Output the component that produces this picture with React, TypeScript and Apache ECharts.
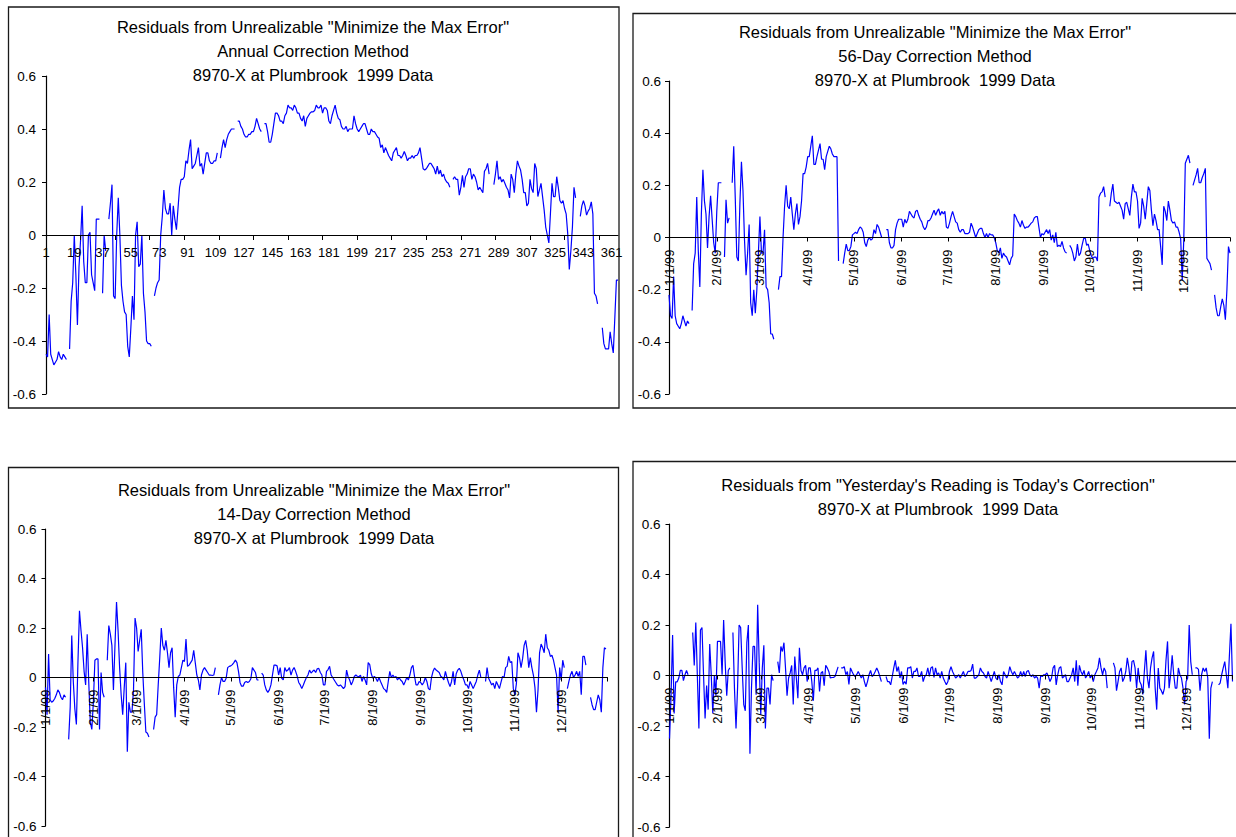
import React, { useEffect, useRef } from "react";
import * as echarts from "echarts";

// Residuals, one value per day of 1999 (null = missing day)
const annualResiduals: (number | null)[] = [
  -0.45,-0.46,-0.30,-0.45,-0.47,-0.49,-0.48,-0.47,-0.44,-0.46,
  -0.47,-0.45,-0.46,-0.47,null,-0.43,-0.25,-0.18,0.0,-0.15,
  -0.34,-0.12,-0.02,0.11,-0.10,-0.18,-0.18,0.0,0.01,-0.15,
  -0.18,-0.21,0.06,0.06,0.06,null,-0.22,0.0,-0.06,null,
  0.06,0.12,0.19,-0.23,-0.24,0.0,0.14,0.0,-0.19,-0.25,
  -0.29,-0.30,-0.42,-0.46,-0.35,-0.23,-0.32,0.0,0.05,-0.12,
  -0.11,0.0,-0.22,-0.29,-0.40,-0.41,-0.41,-0.42,null,-0.23,
  -0.20,-0.18,-0.17,0.0,0.07,0.17,0.10,0.08,0.08,0.12,
  0.0,0.11,0.06,0.02,0.10,0.18,0.21,0.21,0.22,0.28,
  0.27,0.32,0.36,0.25,0.26,0.27,0.30,0.33,0.26,0.27,
  0.23,0.27,0.31,0.31,0.28,0.27,0.27,0.28,0.28,0.31,
  null,0.29,0.33,0.36,0.33,0.36,0.38,0.39,0.40,0.40,
  0.40,null,0.43,0.43,0.41,0.40,0.38,0.37,0.37,0.38,
  0.38,0.39,0.39,0.41,0.44,0.42,0.40,0.39,null,0.42,
  0.42,0.39,0.35,0.35,0.38,0.42,0.46,0.46,0.45,0.43,
  0.43,0.42,0.45,0.46,0.49,0.48,0.48,0.47,0.49,0.48,
  0.46,0.46,0.44,0.43,0.45,0.41,0.44,0.45,0.46,0.465,
  0.465,0.47,0.49,0.48,0.48,0.49,0.46,0.48,0.48,0.47,
  0.43,0.42,0.45,0.47,0.49,0.46,0.44,0.435,0.41,0.40,
  0.40,0.41,0.39,0.40,0.40,0.40,0.45,0.42,0.40,0.39,
  0.40,0.41,0.42,0.42,0.40,0.38,0.38,0.40,0.39,0.39,
  0.38,0.37,0.365,0.33,0.34,0.31,0.33,0.315,0.30,0.29,
  0.28,0.31,0.32,0.33,0.30,0.30,0.29,0.30,0.315,0.30,
  0.28,0.29,0.29,0.30,0.29,0.30,0.30,0.31,0.33,0.29,
  0.25,0.245,0.25,0.26,0.27,0.27,0.26,0.25,0.23,0.26,
  0.23,0.245,0.22,0.23,0.21,0.20,0.195,0.18,null,0.21,
  0.22,0.21,0.21,0.15,0.18,0.225,0.18,0.22,0.23,0.25,
  0.25,0.21,0.23,0.22,0.20,0.17,0.18,0.17,0.16,0.24,
  0.25,0.27,0.23,null,null,0.19,0.23,0.28,0.21,0.22,
  0.20,0.21,0.195,0.18,0.17,0.14,0.23,0.21,0.16,0.23,
  0.28,0.26,0.245,0.21,0.16,0.16,0.11,0.12,0.21,0.175,
  0.16,0.27,0.25,0.145,0.17,0.195,0.145,0.095,0.03,0.0,
  -0.03,0.08,0.195,0.145,0.145,0.22,0.18,0.13,0.12,0.13,
  0.10,0.08,0.006,-0.13,-0.06,0.03,0.18,0.14,null,null,
  0.07,0.11,0.13,0.11,0.075,0.09,0.10,0.125,0.08,-0.22,
  -0.23,-0.26,null,null,-0.35,-0.41,-0.43,-0.43,-0.43,-0.365,
  -0.41,-0.445,-0.31,-0.17,-0.17,
];

const day56Residuals: (number | null)[] = [
  -0.22,-0.30,-0.31,-0.15,-0.30,-0.33,-0.34,-0.35,-0.33,-0.30,
  -0.32,-0.34,-0.32,-0.33,null,-0.28,-0.10,-0.06,0.155,-0.05,
  -0.19,0.09,0.26,0.14,0.09,-0.04,0.08,0.16,0.07,-0.02,
  -0.06,0.10,0.21,0.21,0.21,null,-0.075,0.145,0.055,0.075,
  null,0.21,0.35,0.15,-0.075,-0.09,0.13,0.29,0.18,-0.01,
  -0.145,-0.06,0.05,-0.25,-0.30,-0.20,-0.29,-0.20,-0.06,0.08,
  -0.06,-0.06,0.03,-0.19,-0.20,-0.25,-0.37,-0.37,-0.39,null,
  null,-0.20,-0.15,-0.15,0.0,0.12,0.20,0.12,0.11,0.155,
  0.09,0.03,0.09,0.13,0.05,0.08,0.14,0.245,0.245,0.27,
  0.31,0.31,0.35,0.39,0.28,0.28,0.31,0.335,0.36,0.30,
  0.30,0.26,0.31,0.33,0.35,0.34,0.32,0.31,0.31,0.31,
  -0.09,null,null,-0.10,-0.06,-0.025,-0.05,-0.05,-0.035,0.01,
  0.015,0.02,0.015,0.03,0.04,0.035,0.02,-0.02,-0.035,-0.01,
  0.0,-0.01,-0.005,0.03,0.015,0.05,0.04,0.02,0.0,null,
  null,0.03,0.03,-0.02,-0.04,-0.04,-0.03,0.03,0.055,0.07,
  0.07,0.07,0.04,0.07,0.055,0.07,0.10,0.09,0.08,0.075,
  0.10,0.105,0.085,0.07,0.06,0.04,0.03,0.04,0.065,0.065,
  0.075,0.09,0.105,0.085,0.10,0.11,0.085,0.10,0.09,0.10,
  0.04,0.035,0.055,0.08,0.10,0.08,0.06,0.055,0.03,0.02,
  0.03,0.03,0.015,0.015,0.015,0.02,0.055,0.04,0.02,0.0,
  0.015,0.03,0.035,0.035,0.015,0.0,0.015,0.0,0.015,0.01,
  0.01,0.0,-0.02,-0.05,-0.06,-0.04,-0.08,-0.06,-0.07,-0.075,
  -0.09,-0.105,-0.08,-0.07,0.09,0.08,0.065,0.055,0.04,0.065,
  0.047,0.035,0.04,0.04,0.047,0.055,0.06,0.075,0.08,0.08,
  0.04,0.0,0.015,0.01,0.02,0.03,0.015,0.03,-0.01,0.01,
  -0.02,0.02,-0.035,-0.03,-0.035,-0.015,-0.04,-0.055,-0.06,null,
  -0.03,-0.04,-0.06,-0.09,-0.075,-0.025,-0.07,-0.06,-0.03,-0.005,
  0.0,-0.03,-0.025,-0.05,-0.07,-0.08,-0.075,-0.075,-0.09,0.155,
  0.17,0.175,0.195,0.155,null,null,0.12,0.17,0.205,0.14,
  0.135,0.13,0.135,0.12,0.105,0.07,0.13,0.135,0.11,0.085,
  0.155,0.205,0.175,0.175,0.14,0.035,0.055,0.15,0.12,0.07,
  0.13,0.195,0.18,0.105,0.045,0.09,0.065,0.03,0.03,-0.035,
  -0.105,0.12,0.10,0.065,0.14,0.105,0.065,0.055,0.06,0.04,
  0.04,0.02,-0.005,-0.165,-0.01,0.285,0.30,0.315,0.285,null,
  0.20,0.22,0.24,0.265,0.21,0.21,0.23,0.245,0.265,-0.08,
  -0.09,-0.10,-0.125,null,-0.22,-0.27,-0.30,-0.30,-0.265,-0.235,
  -0.26,-0.315,-0.20,-0.035,-0.06,
];

const day14Residuals: (number | null)[] = [
  -0.04,-0.15,0.095,-0.09,-0.10,-0.095,-0.085,-0.07,-0.05,-0.06,
  -0.08,-0.09,-0.07,-0.08,null,-0.25,-0.12,0.17,-0.016,-0.126,
  -0.19,0.06,0.27,0.19,0.12,0.025,-0.03,0.175,-0.016,-0.18,
  -0.21,-0.10,0.07,0.075,0.075,-0.21,0.02,-0.06,-0.08,null,
  0.07,0.21,0.175,0.13,-0.05,0.13,0.305,0.19,0.04,-0.07,
  -0.15,-0.04,0.06,-0.30,-0.10,-0.14,-0.14,-0.05,0.24,0.20,
  0.105,0.15,0.195,0.02,-0.105,-0.22,-0.225,-0.24,null,null,
  -0.21,-0.16,-0.15,-0.03,0.08,0.20,0.13,0.11,0.15,0.10,
  0.04,0.10,0.12,-0.04,-0.16,-0.03,0.004,0.01,0.04,0.07,
  0.065,0.155,0.045,0.05,0.06,0.07,0.11,0.06,0.01,-0.01,
  -0.05,0.01,0.03,0.04,0.03,0.02,0.01,0.01,0.008,0.01,
  0.04,null,-0.07,-0.03,0.0,-0.016,-0.016,-0.003,0.04,0.045,
  0.047,0.052,0.06,0.07,0.06,0.025,-0.02,-0.035,-0.035,-0.02,
  -0.016,-0.02,-0.016,-0.005,0.04,0.03,0.02,-0.01,-0.01,null,
  0.018,0.01,-0.03,-0.05,-0.06,-0.05,-0.03,0.01,0.05,0.05,
  0.047,0.01,0.04,-0.003,-0.01,0.04,0.025,0.03,0.04,0.01,
  0.03,0.04,0.025,0.006,-0.02,-0.03,-0.045,-0.03,-0.014,0.0,
  0.01,0.03,0.018,0.025,0.03,0.02,0.035,0.037,0.02,0.01,
  -0.03,-0.03,0.025,0.032,0.045,0.01,0.0,-0.01,-0.02,-0.03,
  -0.034,-0.03,-0.037,-0.045,-0.037,0.03,0.003,-0.01,-0.03,-0.016,
  0.004,0.01,0.005,0.003,0.01,-0.016,0.004,-0.01,-0.03,0.06,
  0.052,0.015,-0.003,0.005,-0.003,-0.016,0.0,-0.016,-0.03,-0.045,
  -0.05,-0.06,-0.016,0.025,0.0,0.01,0.0,0.004,-0.01,0.0,
  -0.01,-0.016,-0.03,-0.016,0.0,-0.01,0.01,0.04,0.049,0.005,
  -0.03,-0.03,-0.016,-0.02,-0.03,-0.02,0.0,-0.016,-0.045,-0.05,
  0.0,0.025,0.038,0.03,0.025,0.02,0.005,0.0,-0.01,0.025,
  0.0,-0.02,-0.037,-0.016,0.025,-0.03,0.015,0.03,0.037,0.025,
  0.005,-0.01,-0.03,-0.03,-0.045,-0.016,-0.03,-0.045,-0.03,-0.016,
  0.01,0.03,0.0,null,null,-0.016,0.04,-0.003,-0.016,-0.03,
  -0.023,-0.045,-0.016,-0.03,-0.045,-0.02,0.004,0.0,0.04,0.045,
  0.085,0.06,0.065,-0.045,-0.07,-0.025,0.10,0.08,0.04,0.075,
  0.13,0.15,0.11,0.04,0.08,0.04,0.01,-0.04,-0.14,-0.05,
  0.10,0.135,0.12,0.10,0.175,0.12,0.11,0.085,0.09,0.07,
  0.04,0.01,-0.14,0.04,-0.01,0.07,0.04,null,-0.045,-0.016,
  0.01,0.025,0.0,0.01,0.025,0.005,0.025,-0.07,0.085,0.085,
  0.05,null,null,-0.08,-0.11,-0.13,-0.13,-0.10,-0.07,-0.09,
  -0.14,0.04,0.12,0.115,null,
];

const yesterdayResiduals: (number | null)[] = [
  -0.25,-0.08,0.16,-0.15,-0.025,-0.025,-0.01,0.02,0.02,-0.02,
  0.003,0.02,0.003,null,null,0.17,0.04,0.21,0.0,-0.21,
  0.18,0.19,0.003,-0.17,-0.04,-0.135,0.125,0.0,-0.15,0.0,
  -0.08,0.135,0.135,0.135,0.003,0.22,0.05,-0.08,0.02,0.03,
  null,0.17,-0.05,-0.21,-0.05,0.20,0.19,0.03,-0.115,-0.14,
  0.13,0.20,-0.31,-0.05,0.115,0.115,-0.076,0.28,0.05,-0.155,
  0.03,0.12,-0.21,-0.05,-0.05,-0.115,0.003,-0.02,null,null,
  0.055,0.01,0.115,0.095,0.13,0.03,-0.08,-0.01,0.01,0.04,
  -0.115,0.075,-0.01,-0.09,0.11,0.02,0.003,0.03,0.04,-0.024,
  0.03,0.03,-0.024,-0.10,0.02,0.02,0.03,-0.063,0.01,0.016,
  -0.04,0.04,0.03,0.016,-0.01,-0.008,-0.008,-0.004,0.015,0.034,
  null,0.03,0.03,0.035,0.003,0.016,-0.035,0.03,0.016,0.003,
  -0.004,0.003,0.016,0.003,-0.01,0.003,-0.024,-0.045,-0.024,0.003,
  0.02,-0.004,0.003,0.016,0.03,0.016,-0.004,-0.024,null,null,
  -0.004,-0.024,-0.024,-0.037,-0.004,0.03,0.06,0.016,0.035,-0.01,
  0.016,-0.035,-0.024,-0.034,0.03,0.03,0.035,-0.01,0.016,0.016,
  0.03,-0.004,-0.004,0.016,-0.024,-0.004,0.003,0.03,-0.004,0.03,
  0.035,-0.008,0.03,0.003,0.01,-0.01,0.016,-0.01,-0.024,-0.037,
  -0.024,0.016,0.035,0.016,0.003,-0.01,-0.004,0.003,-0.01,0.003,
  0.016,-0.004,0.003,0.016,0.016,0.02,0.045,-0.01,-0.01,-0.004,
  0.003,0.03,0.016,0.01,-0.004,-0.01,0.016,-0.004,-0.024,-0.004,
  0.016,-0.01,-0.017,0.003,-0.024,-0.037,0.016,0.003,-0.01,0.003,
  0.035,0.016,0.003,0.016,0.003,-0.01,-0.004,0.016,-0.004,0.016,
  -0.004,0.016,0.02,0.003,-0.004,0.003,-0.01,-0.004,-0.01,-0.05,
  0.0,-0.004,0.003,0.003,0.01,-0.004,-0.024,-0.01,0.03,0.04,
  -0.037,0.003,0.03,0.035,-0.01,-0.004,0.003,-0.024,-0.024,-0.01,
  0.003,0.03,-0.024,0.06,-0.04,0.04,0.016,0.003,0.02,-0.01,
  0.0,0.016,-0.01,0.003,-0.024,0.003,0.016,0.03,0.07,0.03,
  0.003,0.03,0.016,-0.05,null,null,null,0.05,0.03,-0.06,
  -0.024,0.016,0.03,-0.024,-0.01,0.016,0.07,0.03,-0.024,0.055,
  0.06,0.03,-0.05,0.03,-0.024,-0.037,-0.075,0.016,0.10,-0.01,
  -0.05,0.03,0.07,0.095,-0.05,-0.135,0.03,-0.05,-0.06,-0.075,
  -0.05,0.06,0.135,-0.05,0.003,0.08,0.003,-0.05,-0.05,0.03,
  0.003,-0.01,-0.05,-0.115,-0.024,-0.01,0.20,0.055,0.003,null,
  0.03,0.03,0.024,-0.06,0.003,0.03,0.016,0.03,-0.01,-0.25,
  -0.05,-0.024,null,null,null,-0.037,-0.03,0.003,0.03,0.055,
  0.003,-0.05,0.08,0.205,-0.024,
];

// Categories
const dayNumbers: string[] = Array.from({ length: 365 }, (_, i) => String(i + 1));
const monthLengths = [31, 28, 31, 30, 31, 30, 31, 31, 30, 31, 30, 31];
const dateLabels: string[] = [];
monthLengths.forEach((n, m) => {
  for (let d = 1; d <= n; d++) dateLabels.push(`${m + 1}/${d}/99`);
});

const titleAnnual = ['Residuals from Unrealizable "Minimize the Max Error"', "Annual Correction Method", "8970-X at Plumbrook \u00a01999 Data"];
const title56 = ['Residuals from Unrealizable "Minimize the Max Error"', "56-Day Correction Method", "8970-X at Plumbrook \u00a01999 Data"];
const title14 = ['Residuals from Unrealizable "Minimize the Max Error"', "14-Day Correction Method", "8970-X at Plumbrook \u00a01999 Data"];
const titleYesterday = ['Residuals from "Yesterday\'s Reading is Today\'s Correction"', "8970-X at Plumbrook \u00a01999 Data"];

const FONT = '"Liberation Sans", Arial, Helvetica, sans-serif';

type Panel = {
  grid: { left: number; top: number; width: number; height: number };
  border: { x: number; y: number; width: number; height: number };
  title: string[];
  titleX: number;
  titleY: number;
  data: (number | null)[];
  dates: boolean;
  yMargin: number;
};

const panels: Panel[] = [
  {
    grid: { left: 46, top: 76, width: 572, height: 318 },
    border: { x: 8.5, y: 7, width: 610.5, height: 401 },
    title: titleAnnual, titleX: 313, titleY: 27, data: annualResiduals, dates: false, yMargin: 10,
  },
  {
    grid: { left: 669, top: 81, width: 561, height: 313 },
    border: { x: 633, y: 13.5, width: 640, height: 394.5 },
    title: title56, titleX: 935, titleY: 32, data: day56Residuals, dates: true, yMargin: 8,
  },
  {
    grid: { left: 45.5, top: 529, width: 562, height: 297 },
    border: { x: 8.5, y: 467.5, width: 610, height: 420 },
    title: title14, titleX: 314, titleY: 490, data: day14Residuals, dates: true, yMargin: 9,
  },
  {
    grid: { left: 669.5, top: 524, width: 563, height: 303 },
    border: { x: 633, y: 461.5, width: 640, height: 420 },
    title: titleYesterday, titleX: 938, titleY: 485, data: yesterdayResiduals, dates: true, yMargin: 9,
  },
];

const isMonthStart = (_idx: number, val: string) => val.split("/")[1] === "1";

export default function App() {
  const ref = useRef<HTMLDivElement>(null);

  useEffect(() => {
    if (!ref.current) return;
    const chart = echarts.init(ref.current, undefined, { renderer: "svg" });

    const graphics: any[] = [];
    panels.forEach((p) => {
      graphics.push({
        type: "rect",
        shape: { ...p.border },
        style: { fill: "none", stroke: "#1a1a1a", lineWidth: 1.3 },
        z: 10,
      });
      p.title.forEach((line, li) => {
        graphics.push({
          type: "text",
          x: p.titleX,
          y: p.titleY + li * 24,
          style: {
            text: line,
            fill: "#000",
            fontSize: 16.5,
            fontFamily: FONT,
            align: "center",
            textAlign: "center",
            verticalAlign: "middle",
            textVerticalAlign: "middle",
          },
          z: 10,
        });
      });
    });

    const option: any = {
      animation: false,
      backgroundColor: "#ffffff",
      grid: panels.map((p) => ({ ...p.grid, containLabel: false, show: false })),
      // the x axis crosses at zero, i.e. at the middle of the -0.6..0.6 range
      xAxis: panels.map((p, i) =>
        p.dates
          ? {
              type: "category",
              gridIndex: i,
              data: dateLabels,
              boundaryGap: false,
              position: "bottom",
              offset: -p.grid.height / 2,
              z: 5,
              axisLine: { onZero: false, lineStyle: { color: "#000", width: 1.2 } },
              axisTick: {
                show: true,
                length: 4,
                interval: (idx: number, val: string) => isMonthStart(idx, val) || idx === 364,
                lineStyle: { color: "#000" },
              },
              axisLabel: {
                interval: isMonthStart,
                rotate: 90,
                fontSize: 13,
                color: "#000",
                margin: 12,
                fontFamily: FONT,
              },
              splitLine: { show: false },
            }
          : {
              type: "category",
              gridIndex: i,
              data: dayNumbers,
              boundaryGap: false,
              position: "bottom",
              offset: -p.grid.height / 2,
              z: 5,
              axisLine: { onZero: false, lineStyle: { color: "#000", width: 1.2 } },
              axisTick: { show: true, length: 5, interval: 21, lineStyle: { color: "#000" } },
              axisLabel: { interval: 17, fontSize: 13, color: "#000", margin: 11, fontFamily: FONT },
              splitLine: { show: false },
            }
      ),
      yAxis: panels.map((p, i) => ({
        type: "value",
        gridIndex: i,
        min: -0.6,
        max: 0.6,
        interval: 0.2,
        axisLine: { show: true, onZero: false, lineStyle: { color: "#000", width: 1.2 } },
        axisTick: { show: true, length: 4, lineStyle: { color: "#000" } },
        splitLine: { show: false },
        axisLabel: {
          fontSize: 13.5,
          color: "#000",
          margin: p.yMargin,
          fontFamily: FONT,
          formatter: (v: number) => String(Math.round(v * 10) / 10),
        },
      })),
      series: panels.map((p, i) => ({
        type: "line",
        xAxisIndex: i,
        yAxisIndex: i,
        data: p.data,
        symbol: "none",
        showSymbol: false,
        connectNulls: false,
        lineStyle: { color: "#0000ff", width: 1.2 },
        silent: true,
        z: 3,
      })),
      graphic: graphics,
    };

    chart.setOption(option);
    return () => chart.dispose();
  }, []);

  return (
    <div
      ref={ref}
      style={{ position: "fixed", left: 0, top: 0, width: 1236, height: 837, background: "#fff" }}
    />
  );
}
